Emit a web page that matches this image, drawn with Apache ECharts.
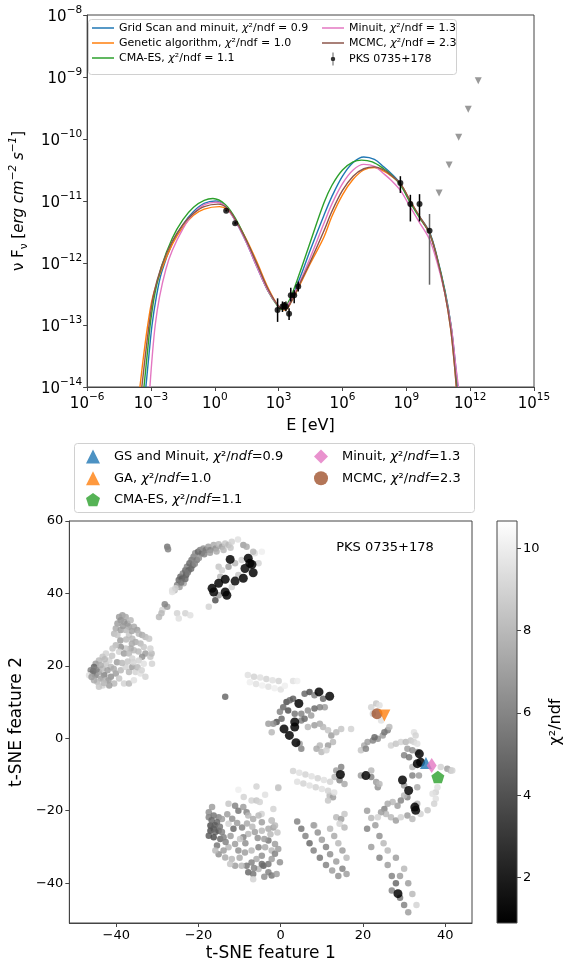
<!DOCTYPE html>
<html><head><meta charset="utf-8">
<script src="https://cdn.jsdelivr.net/npm/echarts@6.0.0/dist/echarts.min.js"></script>
<style>html,body{margin:0;padding:0;background:#fff}#c{width:565px;height:965px}</style>
</head><body><div id="c"></div>
<script>
// ---------------- SED (top panel), values as [log10 E(eV), log10 nuFnu] ----------------
const gridScanCurve = [[-3.24,-14.0],[-3.1,-13.5],[-2.95,-13.0],[-2.75,-12.55],[-2.5,-12.15],[-2.0,-11.68],[-1.5,-11.38],[-1.0,-11.17],[-0.5,-11.04],[0.03,-11.0],[0.5,-11.09],[1.0,-11.34],[1.5,-11.68],[2.0,-12.08],[2.5,-12.45],[3.0,-12.7],[3.2,-12.74],[3.5,-12.64],[4.0,-12.24],[4.5,-11.78],[5.13,-11.23],[5.5,-10.93],[6.0,-10.6],[6.5,-10.38],[7.0,-10.29],[7.5,-10.33],[7.94,-10.45],[8.3,-10.56],[8.72,-10.72],[9.19,-11.02],[9.62,-11.25],[10.09,-11.5],[10.43,-11.88],[10.82,-12.45],[11.1,-13.0],[11.3,-13.6],[11.42,-14.0]];
const geneticCurve = [[-3.52,-14.0],[-3.33,-13.45],[-3.13,-12.95],[-2.92,-12.55],[-2.5,-12.1],[-2.0,-11.7],[-1.5,-11.42],[-1.0,-11.23],[-0.5,-11.13],[0.22,-11.09],[0.6,-11.14],[1.0,-11.32],[1.5,-11.63],[2.0,-12.0],[2.5,-12.4],[3.0,-12.7],[3.3,-12.76],[3.6,-12.62],[4.0,-12.35],[4.5,-12.0],[5.13,-11.58],[5.5,-11.25],[6.0,-10.9],[6.5,-10.65],[7.0,-10.5],[7.5,-10.46],[7.94,-10.52],[8.3,-10.6],[8.72,-10.72],[9.19,-11.0],[9.62,-11.25],[10.09,-11.52],[10.43,-11.9],[10.82,-12.5],[11.08,-13.05],[11.25,-13.6],[11.35,-14.0]];
const cmaesCurve = [[-3.33,-14.0],[-3.17,-13.45],[-3.02,-12.95],[-2.82,-12.5],[-2.5,-12.05],[-2.0,-11.6],[-1.5,-11.3],[-1.0,-11.1],[-0.5,-10.99],[-0.09,-10.96],[0.5,-11.06],[1.0,-11.3],[1.5,-11.65],[2.0,-12.05],[2.5,-12.45],[3.0,-12.72],[3.15,-12.75],[3.5,-12.6],[4.0,-12.15],[4.5,-11.65],[5.13,-11.03],[5.5,-10.75],[6.0,-10.5],[6.5,-10.37],[6.9,-10.34],[7.4,-10.37],[7.94,-10.48],[8.3,-10.58],[8.72,-10.74],[9.19,-11.03],[9.62,-11.27],[10.09,-11.52],[10.43,-11.9],[10.82,-12.47],[11.1,-13.02],[11.28,-13.6],[11.38,-14.0]];
const minuitCurve = [[-3.05,-14.0],[-2.94,-13.5],[-2.8,-13.0],[-2.6,-12.55],[-2.3,-12.1],[-2.0,-11.8],[-1.5,-11.45],[-1.0,-11.2],[-0.5,-11.06],[0.08,-11.02],[0.5,-11.09],[1.0,-11.34],[1.5,-11.68],[2.0,-12.08],[2.5,-12.45],[3.0,-12.7],[3.2,-12.73],[3.5,-12.64],[4.0,-12.3],[4.5,-11.9],[5.13,-11.36],[5.5,-11.05],[6.0,-10.72],[6.5,-10.5],[7.0,-10.41],[7.5,-10.44],[7.94,-10.56],[8.3,-10.67],[8.72,-10.83],[9.19,-11.1],[9.62,-11.35],[10.09,-11.62],[10.43,-11.97],[10.82,-12.5],[11.12,-13.05],[11.32,-13.65],[11.45,-14.0]];
const mcmcCurve = [[-3.43,-14.0],[-3.25,-13.45],[-3.07,-12.95],[-2.87,-12.5],[-2.5,-12.05],[-2.0,-11.65],[-1.5,-11.38],[-1.0,-11.2],[-0.5,-11.09],[0.15,-11.05],[0.6,-11.12],[1.0,-11.32],[1.5,-11.65],[2.0,-12.03],[2.5,-12.42],[3.0,-12.7],[3.3,-12.75],[3.6,-12.62],[4.0,-12.33],[4.5,-11.97],[5.13,-11.48],[5.5,-11.17],[6.0,-10.83],[6.5,-10.6],[7.0,-10.48],[7.5,-10.45],[7.94,-10.5],[8.3,-10.59],[8.72,-10.72],[9.19,-11.0],[9.62,-11.25],[10.09,-11.52],[10.43,-11.9],[10.82,-12.5],[11.08,-13.05],[11.25,-13.6],[11.35,-14.0]];

const sedLogE  = [0.534, 0.955, 2.95, 3.18, 3.26, 3.34, 3.49, 3.57, 3.73, 3.92, 8.72, 9.19, 9.62, 10.09];
const sedLogF  = [-11.156, -11.36, -12.76, -12.70, -12.69, -12.70, -12.82, -12.52, -12.52, -12.38, -10.71, -11.05, -11.05, -11.48];
const sedErrLo = [-11.17, -11.38, -12.95, -12.79, -12.75, -12.78, -12.92, -12.62, -12.65, -12.46, -10.87, -11.33, -11.33, -12.35];
const sedErrHi = [-11.14, -11.34, -12.57, -12.62, -12.63, -12.62, -12.73, -12.40, -12.44, -12.30, -10.60, -10.90, -10.89, -11.21];
const sedErrGray = [0,0,0,0,0,0,0,0,0,0,0,0,0,1];
const ulLogE = [10.54, 11.01, 11.46, 11.91, 12.38];
const ulLogF = [-10.87, -10.42, -9.97, -9.52, -9.06];

const sedXTicks = [-6, -3, 0, 3, 6, 9, 12, 15];
const sedYTicks = [-14, -13, -12, -11, -10, -9, -8];

// ---------------- t-SNE (bottom panel), [feature1, feature2, chi2/ndf] ----------------
const tsneTopArc = [[-27.6,52.9,5.5],[-27.4,52.2,6],[-25.8,40.9,8],[-25.2,42.3,6],[-24.8,43.7,5],[-24.4,44.6,5],[-23.8,45.5,6],[-23.2,46.4,5],[-22.8,47.4,6],[-22.2,48.3,5],[-21.7,49.2,5.5],[-21.2,50.1,6],[-20.8,51.1,6.5],[-20.1,51.5,5],[-19.6,52.0,6],[-19.2,51.1,5],[-18.8,52.4,6.5],[-18.2,52.0,5.5],[-17.6,52.9,7],[-17.1,52.0,6],[-16.3,53.4,7.5],[-15.8,52.4,6.5],[-15.1,53.6,8],[-14.3,52.9,7],[-13.5,53.8,8.5],[-12.7,53.4,8],[-11.9,54.3,9],[-10.4,54.9,9.5],[-9.1,53.4,7],[-24.0,44.1,4.5],[-23.0,45.1,4.5],[-22.4,46.4,4.8],[-21.4,47.8,5],[-20.4,49.2,5.5],[-24.6,41.8,7],[-23.6,42.8,7.5],[-26.4,40.4,9.5],
 [-24.2,43.0,5.5],[-23.2,44.0,5],[-22.6,45.8,5.5],[-21.8,46.8,5],[-20.9,48.2,6],[-19.9,49.8,6.5],[-18.6,50.8,6],[-17.2,51.2,7],[-15.6,51.6,7.5],[-13.9,52.0,8],[-12.2,52.6,8.5],
 [-15.1,47.4,8.5],[-14.3,46.4,9],[-12.7,47.4,7],[-11.1,48.3,8],[-9.5,49.2,9],[-5.4,48.3,9],[-6.3,51.1,9.5],[-4.6,51.5,10],[-8.3,52.9,7.5],[-6.7,51.5,8],[-17.5,36.3,9],[-15.9,38.1,4],[-14.7,44.6,8],[-10.3,45.1,8.5],[-11.9,41.8,9],[-15.1,39.5,7],
 [-28.8,35.4,9],[-27.6,36.3,7],[-29.6,33.5,8],[-25.2,34.5,9],[-24.8,33.1,9.5],[-23.2,34.5,9],[-22.0,34.0,9.5],[-26.4,40.9,9.5],[-25.6,41.4,9],[-28.2,37.0,6],[-29.0,34.5,8]];
const tsneLeftCluster = [[-39.3,33.5,7],[-38.5,34.0,7],[-37.7,33.5,7.5],[-38.9,32.6,6.5],[-38.1,32.1,7],[-37.3,31.7,6.5],[-36.5,32.6,8],[-36.9,30.8,7],[-35.7,30.8,7.5],[-34.9,29.9,7],[-34.5,28.9,8],[-33.7,28.5,7.5],[-32.9,28.0,8],[-32.0,27.5,8.5],[-39.7,31.7,7],[-40.1,30.3,7.5],[-40.5,28.9,8],[-39.7,28.5,8.5],[-38.9,29.9,7],[-37.7,29.9,8],[-36.9,28.5,8.5],[-36.1,27.5,8],[-35.3,26.6,7.5],[-34.1,26.2,8],[-33.3,25.2,8.5],[-32.9,23.4,7],[-33.7,22.5,6.5],[-35.7,24.3,8],[-36.5,24.8,7.5],[-37.7,24.8,8.5],[-38.9,25.2,6.5],[-40.1,25.7,8],[-40.9,24.8,8.5],[-39.3,23.9,9],[-38.1,23.4,7],[-36.9,23.4,8],[-36.1,22.0,9],[-34.5,21.5,9],[-33.3,20.6,9.5],[-31.7,22.5,8.5],[-31.3,20.6,9],[-42.5,23.4,9],[-43.3,22.5,8.5],[-44.2,21.5,8],[-45.0,20.6,7],[-45.4,19.7,5],[-46.2,18.8,6],[-45.8,17.9,4.5],[-45.0,17.4,6],[-44.2,18.3,7],[-43.3,19.2,8],[-42.5,20.6,8.5],[-41.7,21.5,9],[-41.3,19.7,8],[-42.1,18.8,7],[-42.9,17.4,6],[-43.7,16.5,7],[-44.6,15.6,8],[-45.4,16.0,7.5],[-42.5,16.0,8],[-41.3,17.0,6.5],[-40.1,17.9,7],[-38.9,18.8,8],[-37.7,19.7,9],[-36.9,18.3,8],[-36.1,19.7,7],[-35.3,18.3,9],[-34.1,17.9,9.5],[-32.9,17.0,9],[-39.3,16.5,8.5],[-38.1,15.1,9],[-36.9,15.1,8],[-35.7,16.0,9.5],[-40.5,15.1,8],[-41.7,14.6,7],[-43.3,14.6,9],[-44.2,14.2,8.5],[-46.6,17.4,9.5],[-31.4,23.4,8],[-31.7,24.8,9],
 [-44.8,19.0,6],[-43.8,20.2,7.5],[-42.8,21.8,8],[-41.0,22.8,8.5],[-39.8,21.0,7],[-38.6,20.8,8],[-37.2,21.2,8.5],[-35.8,21.0,9],[-34.8,19.6,8],[-33.8,18.8,9],[-40.6,19.2,7.5],[-41.9,16.0,7],[-43.0,15.3,8],[-45.6,18.6,5.5],[-46.0,16.9,7],[-39.0,27.0,7],[-37.6,27.3,8],[-36.2,26.1,7.5],[-34.6,24.0,8],[-38.4,31.0,6.8],[-36.2,29.6,7.2]];
const tsneCentral = [[-8.0,17.5,9.5],[-6.5,17.0,9],[-5.0,16.8,9.5],[-3.5,16.4,9],[-2.0,16.0,9.5],[-0.5,15.8,9],[-7.5,15.5,10],[-6,15,9.5],[-4.5,14.6,10],[-3,14.2,9.5],[-1.5,13.8,10],[0,13.5,9.5],[1,14.5,10],[3.0,15.8,9.5],[4.0,15.8,10],[-13.5,11.5,5],
 [1.4,10.0,4],[2.2,10.5,5],[3.0,10.9,4.5],[5.8,12.3,5],[7.0,12.8,4],[8.2,11.9,6],[10.3,10.9,5],[10.7,8.6,7],[9.5,8.6,6],[8.2,8.2,5],[6.6,7.7,6.5],[7.4,6.3,7],[5.0,6.8,6],[3.4,6.8,5.5],[1.8,7.7,4],[0.6,8.6,5],[-0.2,7.3,6],[-1.0,4.5,4],[-1.8,4.0,6.5],[0.2,5.4,5],[5.0,4.9,6],[5.8,5.4,5],[6.6,3.1,8],[8.2,3.6,7],[9.5,4.0,7.5],[10.3,3.1,8],[11.5,2.2,8.5],[12.3,0.8,7],[13.5,1.7,8],[14.7,2.6,8.5],[17.1,2.6,9],[12.7,-1.0,8],[11.5,-2.0,7],[9.5,-2.0,8],[8.7,-2.9,7.5],[9.9,-3.8,8],[11.1,-3.3,9],[5.0,-2.9,6],[4.6,-1.5,7],[-2.2,1.7,8],[-3.0,4.0,7],
 [14.7,-7.9,6],[13.5,-8.9,7],[13.1,-10.7,8],[14.3,-11.6,6],[15.5,-12.6,7.5],[19.5,-10.3,7],[22.0,-10.7,6],[23.2,-12.1,7],[23.6,-13.5,6.5],[24.0,-12.6,8],[22.0,-8.9,8],
 [19.5,-3.3,8.5],[20.3,-2.0,7.5],[21.1,-1.0,7],[22.4,-0.6,6],[23.6,-0.1,6.5],[24.8,0.8,7],[26.0,2.2,6],[26.4,3.1,8],[25.2,1.7,5.5],[22.8,0.3,5],[20.7,-2.9,6],
 [22.0,8.6,9],[23.2,9.6,8.5],[24.0,9.1,9.5],[22.4,6.8,9],[24.4,4.9,9.5]];
const tsneRight = [[26.8,-2.0,9],[28.0,-1.5,8.5],[29.2,-1.0,9],[30.4,-1.0,8],[31.6,-0.6,8.5],[32.4,-1.0,9],[33.2,-1.5,9.5],[30.8,-2.9,7],[32.0,-3.3,6.5],[33.2,-3.8,7],[30.0,-4.7,6],[31.2,-5.2,5.5],[32.4,1.7,9.5],[32.8,0.8,9],
 [40.5,-8.4,7],[41.3,-8.9,8],[38.9,-7.9,9],[37.7,-14.9,9],[37.7,-16.7,9.5],[37.3,-18.1,9],[38.1,-13.5,9.5],[41.7,-8.9,9],
 [30.0,-13.0,7],[30.8,-16.3,6],[30.0,-15.8,8],[29.2,-17.2,6],[28.4,-18.6,7],[27.2,-17.6,8],[26.0,-18.1,7.5],[25.2,-19.5,6],[25.6,-20.9,8],[24.4,-20.4,7],[23.6,-21.8,9],[26.8,-21.8,8],[28.0,-22.7,7],[29.2,-21.8,9],[30.8,-21.3,7],[32.0,-22.3,8],[33.2,-18.1,8],[34.0,-20.9,9],[35.7,-19.9,8.5],[36.9,-15.3,9.5],[33.2,-13.5,7.5],[32.0,-10.3,6],[33.6,-10.3,7],[32.0,-7.9,8],
 [11.9,-15.8,8],[12.7,-16.3,7],[11.5,-17.2,8.5],[13.5,-21.8,8],[14.7,-22.3,7],[15.5,-20.9,8.5],[14.3,-23.6,9],[15.5,-24.6,8],[8.2,-24.1,9],[-2.2,-22.7,8],[-1.8,-24.6,7],[-0.6,-13.5,9],[-4.65,-20.9,9]];
const tsneBottomLeft = [[-5.9,-13.3,9],[-0.6,-13.7,8.5],[-10.3,-14.2,10],[-16.7,-19.0,7],[-17.5,-20.4,6.5],[-17.5,-21.8,6],[-16.3,-21.3,5.5],[-15.1,-21.8,6],[-14.3,-22.3,7],[-15.5,-23.2,5],[-17.1,-24.1,4],[-16.3,-25.0,4.5],[-17.1,-25.5,4],[-15.9,-25.9,5],[-15.1,-25.5,4.5],[-14.3,-25.9,6],[-17.5,-26.9,4.5],[-16.3,-27.3,4],[-14.7,-27.8,5],[-13.9,-27.3,6],[-12.7,-18.1,8.5],[-11.1,-18.6,6],[-10.3,-20.0,5.5],[-9.1,-19.0,7],[-8.3,-20.4,6],[-7.1,-17.2,9],[-5.9,-17.2,8.5],[-5.1,-17.6,9],[-7.9,-21.3,8],[-6.7,-22.3,7.5],[-5.4,-21.3,8],[-4.6,-23.2,7],[-2.2,-22.7,8.5],[-1.4,-24.1,8],[-3.0,-25.0,7.5],[-4.6,-25.5,8],[-6.3,-25.9,7],[-7.9,-26.4,8],[-9.1,-27.3,6],[-9.9,-27.8,8.5],[-11.5,-25.0,5],[-12.7,-23.6,9],[-11.1,-29.2,7],[-12.7,-30.1,8],[-13.9,-31.0,7],[-15.1,-32.0,6.5],[-15.5,-29.6,5.5],[-15.9,-31.0,8],[-13.5,-32.9,7.5],[-11.9,-33.3,8],[-10.3,-31.0,6.5],[-8.7,-31.5,7],[-7.1,-31.0,8],[-5.4,-30.1,6],[-3.8,-30.1,7.5],[-3.0,-28.2,5.5],[-1.4,-29.2,7],[-2.2,-31.0,8],[-4.6,-32.4,6.5],[-5.9,-33.3,7.5],[-7.1,-34.3,6],[-8.3,-35.2,5.5],[-9.5,-35.2,8],[-11.1,-35.2,7],[-12.3,-34.7,8.5],[-7.9,-37.0,5],[-6.7,-37.5,5.5],[-5.4,-36.1,8],[-4.2,-35.2,4.5],[-3.0,-34.7,5.5],[-2.2,-33.3,7],[-1.4,-31.9,6],[-0.6,-30.6,7],[-3.0,-37.0,6],[-2.2,-37.9,5.5],[-1.0,-37.5,7],[-6.7,-38.9,9],[-4.6,-34.7,5],
 [-16.8,-22.6,5],[-16.0,-24.0,4.5],[-14.8,-24.4,5.5],[-13.0,-21.0,7],[-11.8,-22.2,6.5],[-10.6,-23.4,7],[-9.4,-24.6,6],[-8.2,-23.5,7.5],[-6.9,-24.4,8],[-5.6,-27.5,6.5],[-4.0,-27.8,7],[-2.5,-26.5,8],[-8.6,-29.0,6.5],[-10.0,-33.0,7.5],[-6.5,-35.8,6],[-4.0,-38.2,6.5],[-12.2,-27.0,7],[-13.4,-28.6,6],[-0.8,-26.0,8.5],[-0.2,-34.2,6.5],[-9.0,-16.2,9],[-3.8,-15.6,9.5],[-1.8,-19.5,9]];
const tsneBottomRight = [[3,-9,9],[4.5,-9.5,9.5],[6,-10,9],[7.5,-10.5,9.5],[9,-11,9],[10.5,-11.5,9.5],[12,-12,9],[4,-12,9.5],[5.5,-12.5,9],[7,-13,9.5],[8.5,-13.5,9],[10,-14,9.5],[11.5,-14.5,9],[13,-15,9.5],
 [4,-23,6],[5,-25,5.5],[6,-27,6],[7,-29,5],[8,-31,6],[9.5,-33,5.5],[11,-35,6],[12.5,-36.5,7],[14,-38,6.5],[8,-24,7],[9,-26,6.5],[10,-28,7],[11,-30,6],[12,-32,6.5],[13.5,-34,7],[15,-36,6],[16,-37.5,7],[12,-25,8],[13,-27,7.5],[14,-29,8],[15,-31,7],[16,-33,8],
 [21,-20,7],[22,-22,8],[21,-25,6],[23,-24,7],[24,-27,6.5],[25,-29,8],[22,-30,7],[24,-33,6],[26,-35,7],[27,-38,6],[28,-40,5],[29,-44,5.5],[30,-46,6],[31,-48,7],[26,-31,8],[28,-33,7],[30,-36,8],[31,-40,7],[32,-43,8],[33,-46,9],[27,-42,6],[29,-38,7]];
const tsneBest = [[-12.3,49.4,1.0],[-7.9,49.7,1.1],[-7.5,48.3,1.0],[-8.7,46.9,1.2],[-6.7,45.7,1.1],[-9.1,44.2,1.0],[-11.1,43.4,1.3],[-13.5,43.9,1.0],[-15.1,42.8,1.1],[-16.7,41.4,1.0],[-16.3,40.4,1.2],[-13.5,40.4,1.0],[-13.1,39.5,1.1],[-7.0,48.0,1.0],
 [9.3,12.8,1.0],[11.9,11.6,1.1],[4.4,9.6,1.0],[3.4,4.5,1.2],[3.4,3.1,1.0],[0.8,2.6,1.1],[2.1,0.8,1.0],[3.7,-1.2,1.0],
 [14.5,-10.0,1.0],[20.7,-10.3,1.1],[29.6,-11.5,1.0],[31.1,-14.4,1.1],[32.6,-19.0,1.0],[32.8,-19.9,1.2],
 [33.7,-4.3,1.0],[33.2,-7.0,1.0],[34.0,-6.6,1.1],[28.5,-42.9,1.0]];

const bestGS = [35.3, -6.8];
const bestGA = [25.2, 6.3];
const bestCMA = [38.2, -10.7];
const bestMinuit = [36.7, -7.5];
const bestMCMC = [23.4, 6.8];

const tsneXTicks = [-40, -20, 0, 20, 40];
const tsneYTicks = [-40, -20, 0, 20, 40, 60];
const cbarTicks = [2, 4, 6, 8, 10];
const chiMin = 0.9, chiMax = 10.66;

// ---------------- helpers ----------------
const toLin = arr => arr.map(p => [Math.pow(10, p[0]), Math.pow(10, p[1])]);
// end ticks pulled a hair inside the axis range so float rounding does not drop them
const tickVals = exps => exps.map((e, i) => Math.pow(10, e) * (i === 0 ? (1 + 1e-9) : (i === exps.length - 1 ? (1 - 1e-9) : 1)));
const supMinus = n => (n < 0 ? '\u2212' : '') + Math.abs(n);
const logFmt = v => { const e = Math.round(Math.log10(v)); return '{b|10}{s|' + supMinus(e) + '}'; };
const FONT = 'DejaVu Sans';
const logRich = { b: { fontSize: 15, fontFamily: FONT, color: '#000', lineHeight: 20, verticalAlign: 'bottom' }, s: { fontSize: 10.5, fontFamily: FONT, color: '#000', verticalAlign: 'top', lineHeight: 12 } };

const C = { blue: '#1f77b4', orange: '#ff7f0e', green: '#2ca02c', pink: '#e377c2', brown: '#8c564b' };
const AX = '#444';

const chart = echarts.init(document.getElementById('c'), null, { renderer: 'canvas' });

const pentagon = 'path://M0,-1 L0.951,-0.309 L0.588,0.809 L-0.588,0.809 L-0.951,-0.309 Z';
const errIcon = 'path://M4.4,0 L5.6,0 L5.6,20 L4.4,20 Z M5,6.6 A3.4,3.4 0 1 1 4.99,6.6 Z';
const lineIcon = 'path://M0,0 L22,0 L22,1.5 L0,1.5 Z';

const topFmt = name => { const k = name.indexOf('\u03c7'); if (k < 0) return '{n|' + name + '}'; return '{n|' + name.slice(0, k) + '}{i|\u03c7}{n|' + name.slice(k + 1) + '}'; };
const botFmt = name => { const key = '\u03c7\u00b2/ndf'; const k = name.indexOf(key); return '{g| }{n|' + name.slice(0, k) + '}{i|\u03c7}{n|\u00b2/}{i|ndf}{n|' + name.slice(k + key.length) + '}'; };
const topRich = { n: { fontSize: 11, fontFamily: FONT, color: '#000', lineHeight: 13 }, i: { fontSize: 11, fontFamily: FONT, fontStyle: 'italic', color: '#000', lineHeight: 13 } };
const botRich = { g: { width: 9 }, n: { fontSize: 13, fontFamily: FONT, color: '#000', lineHeight: 15 }, i: { fontSize: 13, fontFamily: FONT, fontStyle: 'italic', color: '#000', lineHeight: 15 } };

const names = {
  gs: 'Grid Scan and minuit, \u03c7\u00b2/ndf = 0.9', ga: 'Genetic algorithm, \u03c7\u00b2/ndf = 1.0', cma: 'CMA-ES, \u03c7\u00b2/ndf = 1.1',
  mi: 'Minuit, \u03c7\u00b2/ndf = 1.3', mc: 'MCMC, \u03c7\u00b2/ndf = 2.3', pks: 'PKS 0735+178',
  bgs: 'GS and Minuit, \u03c7\u00b2/ndf=0.9', bga: 'GA, \u03c7\u00b2/ndf=1.0', bcma: 'CMA-ES, \u03c7\u00b2/ndf=1.1', bmi: 'Minuit, \u03c7\u00b2/ndf=1.3', bmc: 'MCMC, \u03c7\u00b2/ndf=2.3'
};

const lineSeries = (name, data, color) => ({ type: 'line', name, xAxisIndex: 0, yAxisIndex: 0, data: toLin(data), smooth: 0.35, symbol: 'none', showSymbol: false, lineStyle: { color, width: 1.4 }, itemStyle: { color }, clip: true });

const tsneAll = [].concat(tsneTopArc, tsneLeftCluster, tsneCentral, tsneRight, tsneBottomLeft, tsneBottomRight, tsneBest);

const option = {
  animation: false,
  textStyle: { fontFamily: FONT },
  grid: [
    { left: 84, top: 15, width: 450, height: 372, show: true, borderColor: AX, borderWidth: 1, backgroundColor: 'transparent' },
    { left: 66.7, top: 521, width: 405.3, height: 402, show: true, borderColor: AX, borderWidth: 1 },
    { left: 497, top: 521, width: 20, height: 402 }
  ],
  xAxis: [
    { gridIndex: 0, type: 'log', logBase: 10, min: 1e-6, max: 1e15,
      axisLine: { onZero: false, lineStyle: { color: AX } }, splitLine: { show: false },
      axisTick: { customValues: tickVals(sedXTicks), length: 4, lineStyle: { color: AX } },
      axisLabel: { customValues: tickVals(sedXTicks), formatter: logFmt, rich: logRich, margin: 5, showMinLabel: true, showMaxLabel: true, hideOverlap: false },
      name: 'E [eV]', nameLocation: 'middle', nameGap: 31, nameTextStyle: { fontSize: 16, color: '#000', fontFamily: FONT } },
    { gridIndex: 1, type: 'value', min: -51.4, max: 46.5,
      axisLine: { onZero: false, lineStyle: { color: AX } }, splitLine: { show: false },
      axisTick: { customValues: tsneXTicks, length: 4, lineStyle: { color: AX } },
      axisLabel: { customValues: tsneXTicks, fontSize: 13, color: '#000', margin: 6, formatter: v => supMinus(v) },
      name: 't-SNE feature 1', nameLocation: 'middle', nameGap: 22, nameTextStyle: { fontSize: 17, color: '#000', fontFamily: FONT } },
    { gridIndex: 2, type: 'value', min: 0, max: 1, show: false }
  ],
  yAxis: [
    { gridIndex: 0, type: 'log', logBase: 10, min: 1e-14, max: 1e-8,
      axisLine: { onZero: false, lineStyle: { color: AX } }, splitLine: { show: false },
      axisTick: { customValues: tickVals(sedYTicks), length: 4, lineStyle: { color: AX } },
      axisLabel: { customValues: tickVals(sedYTicks), formatter: logFmt, rich: logRich, margin: 5, showMinLabel: true, showMaxLabel: true },
      name: '{n|\u03bd F}{sb|\u03bd}{n| [}{i|erg cm}{ip|\u22122}{i| s}{ip|\u22121}{n|]}', nameLocation: 'middle', nameGap: 52, nameRotate: 90,
      nameTextStyle: { rich: {
        n: { fontSize: 15, fontFamily: FONT, color: '#000', lineHeight: 22 },
        sb: { fontSize: 10.5, fontFamily: FONT, color: '#000', verticalAlign: 'bottom', lineHeight: 12 },
        i: { fontSize: 15, fontFamily: FONT, fontStyle: 'italic', color: '#000', lineHeight: 22 },
        ip: { fontSize: 10.5, fontFamily: FONT, fontStyle: 'italic', color: '#000', verticalAlign: 'top', lineHeight: 12 } } } },
    { gridIndex: 1, type: 'value', min: -51, max: 60,
      axisLine: { onZero: false, lineStyle: { color: AX } }, splitLine: { show: false },
      axisTick: { customValues: tsneYTicks, length: 4, lineStyle: { color: AX } },
      axisLabel: { customValues: tsneYTicks, fontSize: 13, color: '#000', margin: 6, formatter: v => supMinus(v) },
      name: 't-SNE feature 2', nameLocation: 'middle', nameGap: 33, nameRotate: 90, nameTextStyle: { fontSize: 17, color: '#000', fontFamily: FONT } },
    { gridIndex: 2, type: 'value', position: 'right', min: chiMin, max: chiMax,
      axisLine: { show: false, onZero: false }, splitLine: { show: false },
      axisTick: { customValues: cbarTicks, length: 4, lineStyle: { color: AX } },
      axisLabel: { customValues: cbarTicks, fontSize: 13, color: '#000', margin: 6 },
      name: '\u03c7\u00b2/ndf', nameLocation: 'middle', nameGap: 31, nameRotate: 90, nameTextStyle: { fontSize: 16, color: '#000', fontFamily: FONT } }
  ],
  visualMap: [{ type: 'continuous', show: false, min: chiMin, max: chiMax, dimension: 2, seriesIndex: 8, inRange: { color: ['#000000', '#ffffff'] } }],
  legend: [
    { z: 20, orient: 'vertical', left: 92, top: 22.5, itemWidth: 22, itemHeight: 13, itemGap: 4, padding: 0,
      data: [{ name: names.gs, icon: lineIcon }, { name: names.ga, icon: lineIcon }, { name: names.cma, icon: lineIcon }], formatter: topFmt, textStyle: { rich: topRich }, selectedMode: false },
    { z: 20, orient: 'vertical', left: 322, top: 22.5, itemWidth: 22, itemHeight: 13, itemGap: 4, padding: 0,
      data: [{ name: names.mi, icon: lineIcon }, { name: names.mc, icon: lineIcon }, { name: names.pks, icon: errIcon }], formatter: topFmt, textStyle: { rich: topRich }, selectedMode: false },
    { z: 20, orient: 'vertical', left: 86, top: 449.5, itemWidth: 14, itemHeight: 14, itemGap: 7.7, padding: 0,
      data: [names.bgs, names.bga, names.bcma], formatter: botFmt, textStyle: { rich: botRich }, selectedMode: false },
    { z: 20, orient: 'vertical', left: 314, top: 449.5, itemWidth: 14, itemHeight: 14, itemGap: 7.7, padding: 0,
      data: [names.bmi, names.bmc], formatter: botFmt, textStyle: { rich: botRich }, selectedMode: false }
  ],
  graphic: [
    { type: 'rect', z: 3, shape: { x: 88.5, y: 19.5, width: 368, height: 55, r: 3 }, style: { fill: 'rgba(255,255,255,0.8)', stroke: '#d0d0d0', lineWidth: 1 } },
    { type: 'rect', z: 3, shape: { x: 74.5, y: 443.5, width: 400, height: 69, r: 3 }, style: { fill: 'rgba(255,255,255,0.8)', stroke: '#d0d0d0', lineWidth: 1 } },
    { type: 'rect', z: -10, shape: { x: 497, y: 521, width: 20, height: 402 }, style: { fill: new echarts.graphic.LinearGradient(0, 0, 0, 1, [{ offset: 0, color: '#ffffff' }, { offset: 1, color: '#000000' }]), stroke: AX, lineWidth: 1 } },
    { type: 'text', z: 50, style: { text: 'PKS 0735+178', x: 385, y: 548, align: 'center', verticalAlign: 'middle', font: '13px "DejaVu Sans"', fill: '#000' } }
  ],
  series: [
    lineSeries(names.gs, gridScanCurve, C.blue),
    lineSeries(names.ga, geneticCurve, C.orange),
    lineSeries(names.cma, cmaesCurve, C.green),
    lineSeries(names.mi, minuitCurve, C.pink),
    lineSeries(names.mc, mcmcCurve, C.brown),
    { type: 'custom', xAxisIndex: 0, yAxisIndex: 0, z: 5,
      data: sedLogE.map((e, i) => [Math.pow(10, e), Math.pow(10, sedErrLo[i]), Math.pow(10, sedErrHi[i]), sedErrGray[i]]),
      renderItem: (params, api) => {
        const a = api.coord([api.value(0), api.value(1)]);
        const b = api.coord([api.value(0), api.value(2)]);
        return { type: 'line', shape: { x1: a[0], y1: a[1], x2: b[0], y2: b[1] }, style: { stroke: api.value(3) ? '#666' : '#000', lineWidth: 1.5 } };
      } },
    { type: 'scatter', name: names.pks, xAxisIndex: 0, yAxisIndex: 0, z: 6, symbol: 'circle', symbolSize: 6,
      itemStyle: { color: '#000' }, data: sedLogE.map((e, i) => [Math.pow(10, e), Math.pow(10, sedLogF[i])]) },
    { type: 'scatter', xAxisIndex: 0, yAxisIndex: 0, z: 6, symbol: 'triangle', symbolRotate: 180, symbolSize: 7,
      itemStyle: { color: '#808080' }, data: ulLogE.map((e, i) => [Math.pow(10, e), Math.pow(10, ulLogF[i])]) },
    { type: 'scatter', xAxisIndex: 1, yAxisIndex: 1, z: 3, data: tsneAll,
      symbolSize: v => (v[2] < 2 ? 9 : 6.5), itemStyle: { opacity: 0.85 } },
    { type: 'scatter', name: names.bmc, xAxisIndex: 1, yAxisIndex: 1, z: 7, symbol: 'circle', symbolSize: 11, itemStyle: { color: '#a0522d' }, data: [bestMCMC] },
    { type: 'scatter', name: names.bga, xAxisIndex: 1, yAxisIndex: 1, z: 8, symbol: 'triangle', symbolRotate: 180, symbolSize: 12, itemStyle: { color: C.orange }, data: [bestGA] },
    { type: 'scatter', name: names.bgs, xAxisIndex: 1, yAxisIndex: 1, z: 7, symbol: 'triangle', symbolSize: 12, itemStyle: { color: C.blue }, data: [bestGS] },
    { type: 'scatter', name: names.bmi, xAxisIndex: 1, yAxisIndex: 1, z: 8, symbol: 'diamond', symbolSize: [10, 15], itemStyle: { color: C.pink }, data: [bestMinuit] },
    { type: 'scatter', name: names.bcma, xAxisIndex: 1, yAxisIndex: 1, z: 8, symbol: pentagon, symbolKeepAspect: true, symbolSize: 13, itemStyle: { color: C.green }, data: [bestCMA] }
  ]
};
chart.setOption(option);
</script>
</body></html>
